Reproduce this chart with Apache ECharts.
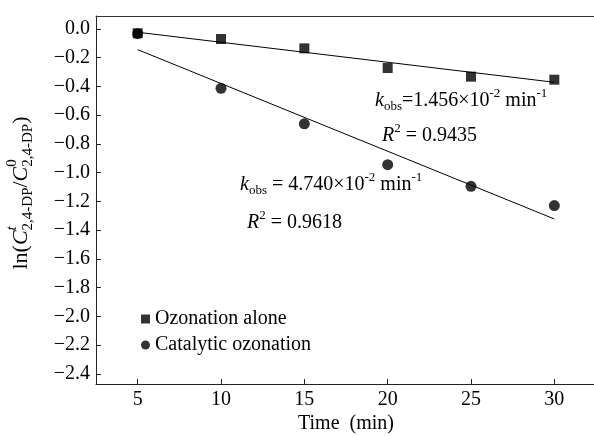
<!DOCTYPE html>
<html>
<head>
<meta charset="utf-8">
<script src="https://cdn.jsdelivr.net/npm/echarts@6/dist/echarts.min.js"></script>
<style>
  html, body { margin: 0; padding: 0; background: #fff; overflow: hidden; }
  #chart { width: 594px; height: 436px; }
</style>
</head>
<body>
<div id="chart"></div>
<script>
const FONT = '"Liberation Serif", "Times New Roman", serif';

// data
const times = [5, 10, 15, 20, 25, 30];
const ozonationAlone = [-0.03, -0.07, -0.135, -0.272, -0.332, -0.353];
const catalyticOzonation = [-0.033, -0.413, -0.66, -0.944, -1.095, -1.229];
const fitTimes = [5, 30];
const fitOzonation = [-0.023, -0.371];
const fitCatalytic = [-0.144, -1.322];
const xTicks = [5, 10, 15, 20, 25, 30];
const yTicks = [0, -0.2, -0.4, -0.6, -0.8, -1.0, -1.2, -1.4, -1.6, -1.8, -2.0, -2.2, -2.4];

// measure text so sub/superscripts can be laid out piece by piece
const ctx = document.createElement('canvas').getContext('2d');
const fontStr = (tk) => (tk.italic ? 'italic ' : '') + tk.size + 'px ' + FONT;

// tokens -> graphic text children, y is the middle line of the main text
const layoutTokens = (tokens, centered) => {
  let x = 0;
  const items = tokens.map(tk => {
    ctx.font = fontStr(tk);
    const w = ctx.measureText(tk.t).width;
    const item = { tk, x };
    if (!tk.stack) x += w;
    return item;
  });
  const shift = centered ? -x / 2 : 0;
  return items.map(({ tk, x }) => ({
    type: 'text',
    x: x + shift,
    y: tk.dy || 0,
    style: {
      text: tk.t,
      fontSize: tk.size,
      fontFamily: FONT,
      fontStyle: tk.italic ? 'italic' : 'normal',
      fill: '#000',
      verticalAlign: 'middle',
      align: 'left'
    }
  }));
};

const kLine = (value, spaced) => [
  { t: 'k', size: 20, italic: true },
  { t: 'obs', size: 13, dy: 6 },
  { t: (spaced ? ' = ' : '=') + value + '\u00d710', size: 20 },
  { t: '-2', size: 13, dy: -7 },
  { t: ' min', size: 20 },
  { t: '-1', size: 13, dy: -7 }
];
const rLine = (value) => [
  { t: 'R', size: 20, italic: true },
  { t: '2', size: 13, dy: -7 },
  { t: ' = ' + value, size: 20 }
];
const yTitle = [
  { t: 'ln(', size: 22 },
  { t: 'C', size: 22, italic: true },
  { t: 't', size: 15, italic: true, dy: -9, stack: true },
  { t: '2,4-DP', size: 15, dy: 7 },
  { t: '/', size: 22 },
  { t: 'C', size: 22, italic: true },
  { t: '0', size: 15, dy: -9, stack: true },
  { t: '2,4-DP', size: 15, dy: 7 },
  { t: ')', size: 22 }
];

const chart = echarts.init(document.getElementById('chart'));

// the right edge of the frame lies outside the picture, as in the reference
const option = {
  animation: false,
  backgroundColor: '#fff',
  grid: {
    left: 96, top: 16, width: 510, height: 368,
    outerBoundsMode: 'none'
  },
  legend: {
    data: ['Ozonation alone', 'Catalytic ozonation'],
    orient: 'vertical',
    left: 136,
    top: 304,
    itemWidth: 9,
    itemHeight: 9,
    itemGap: 6,
    itemTextGap: 11,
    textStyle: { fontSize: 20, fontFamily: FONT, color: '#000', lineHeight: 20 }
  },
  xAxis: [
    {
      type: 'value',
      min: 2.5,
      max: 33.1,
      name: 'Time  (min)',
      nameLocation: 'start',
      nameGap: 0,
      nameTextStyle: {
        fontSize: 20, fontFamily: FONT, color: '#000',
        align: 'center', verticalAlign: 'top', padding: [30, 0, 0, 500]
      },
      axisLine: { onZero: false, lineStyle: { color: '#222', width: 1 } },
      axisTick: { inside: true, length: 5, customValues: xTicks, lineStyle: { color: '#222' } },
      axisLabel: { customValues: xTicks, fontSize: 20, fontFamily: FONT, color: '#000', margin: 6 },
      splitLine: { show: false }
    },
    {
      // top frame line only
      type: 'value',
      position: 'top',
      min: 2.5,
      max: 33.1,
      axisLine: { show: true, onZero: false, lineStyle: { color: '#333', width: 1 } },
      axisTick: { show: false },
      axisLabel: { show: false },
      splitLine: { show: false }
    }
  ],
  yAxis: {
    type: 'value',
    min: -2.47,
    max: 0.09,
    axisLine: { show: true, onZero: false, lineStyle: { color: '#222', width: 1 } },
    axisTick: { show: true, inside: true, length: 5, customValues: yTicks, lineStyle: { color: '#222' } },
    axisLabel: {
      customValues: yTicks,
      fontSize: 20,
      fontFamily: FONT,
      color: '#000',
      margin: 6,
      formatter: v => v.toFixed(1).replace('-', '\u2212')
    },
    splitLine: { show: false }
  },
  series: [
    {
      name: 'fitOzonation',
      type: 'line',
      data: fitTimes.map((t, i) => [t, fitOzonation[i]]),
      showSymbol: false,
      silent: true,
      lineStyle: { color: '#000', width: 1 },
      z: 1
    },
    {
      name: 'fitCatalytic',
      type: 'line',
      data: fitTimes.map((t, i) => [t, fitCatalytic[i]]),
      showSymbol: false,
      silent: true,
      lineStyle: { color: '#000', width: 1 },
      z: 1
    },
    {
      name: 'Ozonation alone',
      type: 'scatter',
      symbol: 'rect',
      symbolSize: 10,
      itemStyle: { color: '#000' },
      data: times.map((t, i) => [t, ozonationAlone[i]]),
      z: 3
    },
    {
      name: 'Catalytic ozonation',
      type: 'scatter',
      symbol: 'circle',
      symbolSize: 11,
      itemStyle: { color: '#000' },
      data: times.map((t, i) => [t, catalyticOzonation[i]]),
      z: 3
    }
  ],
  graphic: [
    { type: 'group', x: 21, y: 193, rotation: Math.PI / 2, children: layoutTokens(yTitle, true) },
    { type: 'group', x: 375, y: 101, children: layoutTokens(kLine('1.456', false)) },
    { type: 'group', x: 382, y: 136, children: layoutTokens(rLine('0.9435')) },
    { type: 'group', x: 240, y: 185, children: layoutTokens(kLine('4.740', true)) },
    { type: 'group', x: 247, y: 223, children: layoutTokens(rLine('0.9618')) }
  ]
};

chart.setOption(option);
</script>
</body>
</html>
